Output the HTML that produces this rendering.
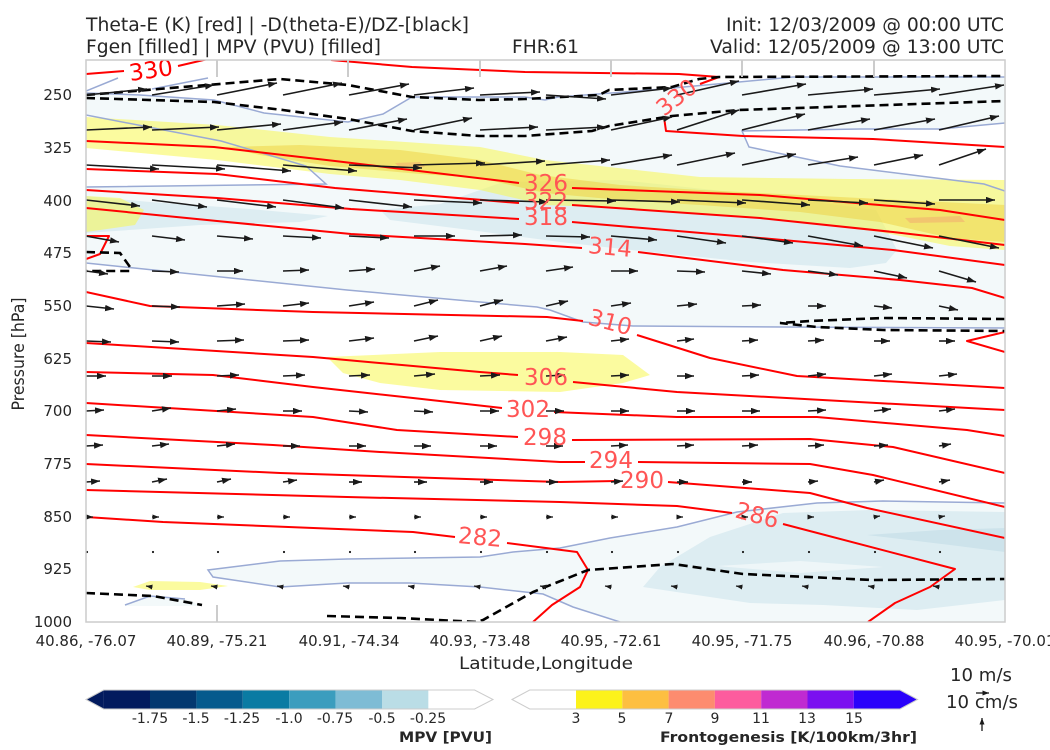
<!DOCTYPE html>
<html>
<head>
<meta charset="utf-8">
<style>
html,body{margin:0;padding:0;background:#fff;}
svg{display:block;}
text{font-family:"DejaVu Sans","Liberation Sans",sans-serif;}
</style>
</head>
<body>
<svg width="1050" height="750" viewBox="0 0 1050 750" xmlns="http://www.w3.org/2000/svg">
<defs>
<marker id="ah" markerUnits="userSpaceOnUse" markerWidth="10" markerHeight="8" refX="9" refY="3.2" orient="auto"><path d="M0,0 L9,3.2 L0,6.4 z" fill="#1a1a1a"/></marker>
<marker id="as" markerUnits="userSpaceOnUse" markerWidth="8" markerHeight="6" refX="6.5" refY="2.5" orient="auto"><path d="M0,0 L6.5,2.5 L0,5 z" fill="#1a1a1a"/></marker>
<clipPath id="pc"><rect x="86" y="60" width="919" height="562"/></clipPath>
</defs>
<rect width="1050" height="750" fill="#fff"/>

<g clip-path="url(#pc)">
<!-- MPV fills -->
<polygon fill="#f3f9fa" points="86,93 140,95 214,100 264,113 348,122 383,114 412,97 525,97 545,100 558,97 650,90 739,82 793,77 1005,77 1005,328 783,327 633,326 583,322 550,310 537,307 480,302 347,290 86,263"/>
<polygon fill="#ffffff" points="86,115 221,141 306,166 326,184 86,187"/>
<polygon fill="#ffffff" points="742,131 860,129 940,129 1005,123 1005,191 984,184 840,166 749,147"/>
<polygon fill="#f3f9fa" points="208,570 280,561 347,559 480,557 513,552 560,548 610,538 677,527 737,512 817,503 883,501 1005,503 1005,622 620,622 573,607 543,594 480,587 410,583 347,583 280,587 213,577"/>
<polygon fill="#f3f9fa" points="125,605 150,596 190,600 200,606 125,606"/>
<polygon fill="#ddedf2" points="86,196 150,202 250,209 328,216 300,222 200,225 144,229 86,233"/>
<polygon fill="#ddedf2" points="380,210 440,204 503,182 620,180 760,195 876,210 897,250 886,263 850,268 750,262 650,252 560,242 470,230 390,220"/>
<polygon fill="#ddedf2" points="643,587 660,567 710,537 783,513 870,510 1005,512 1005,600 917,610 823,605 750,603"/>
<polygon fill="#eef6f8" points="717,566 800,561 883,567 800,573"/>
<polygon fill="#cde3eb" points="867,535 940,530 1005,528 1005,552 950,545"/>

<!-- Fgen fills -->
<g fill="#f8f850" fill-opacity="0.55">
<polygon points="86,117 217,125 330,137 480,147 545,160 700,177 850,179 1005,180 1005,250 950,246 880,232 800,222 700,214 620,208 545,205 480,190 400,180 330,174 217,160 86,148"/>
<polygon points="327,357 440,352 560,352 623,355 650,375 623,383 560,392 440,390 380,383 343,373"/>
<polygon points="86,196 120,198 144,210 135,225 86,232"/>
<polygon points="133,587 150,581 200,582 228,586 200,590 150,590"/>
</g>
<polygon fill="#eed040" fill-opacity="0.5" points="225,147 300,145 400,150 480,160 540,175 620,185 700,190 800,195 900,200 1005,205 1005,242 950,238 880,222 800,212 700,205 620,200 545,193 480,178 420,174 330,166 260,155"/>
<polygon fill="#f2b070" fill-opacity="0.6" points="395,163 420,162 425,167 400,168"/>
<polygon fill="#f2b070" fill-opacity="0.6" points="905,218 960,216 965,222 910,223"/>

<!-- MPV contour lines -->
<g fill="none" stroke="#9aaad4" stroke-width="1.5">
<polyline points="86,93 140,95 214,100 264,113 348,122 383,114 412,97 525,97 545,100 558,97 650,90 739,82 793,77 1005,77"/>
<polyline points="86,91 118,78"/>
<polyline points="152,89 208,78"/>
<polyline points="86,115 221,141 306,166 326,184 86,187"/>
<polyline points="1005,123 940,129 860,129 742,131 749,147 840,166 984,184 1005,191"/>
<polyline points="86,263 347,290 480,302 537,307 550,310 583,322 633,326 783,327 1005,328"/>
<polyline points="1005,503 883,501 817,503 737,512 677,527 610,538 560,548 513,552 480,557 347,559 280,561 208,570 213,577 280,587 347,583 410,583 480,587 543,594 573,607 620,622"/>
<polyline points="125,605 150,596 185,599"/>
</g>

<!-- Theta-E contours -->
<g fill="none" stroke="#ff0000" stroke-width="2" stroke-linejoin="round">
<polyline points="86,74 124,71"/>
<polyline points="178,66 208,59"/>
<polyline points="331,60 412,67 525,72 679,74 719,77 700,84"/>
<polyline points="664,117 666,131 743,136 873,139 1005,147"/>
<polyline points="86,141 214,147 335,161 519,183"/>
<polyline points="572,188 760,195 940,210 1005,220"/>
<polyline points="86,169 217,174 335,188 519,203"/>
<polyline points="572,205 760,218 893,232 1005,245"/>
<polyline points="86,190 217,198 351,209 519,219"/>
<polyline points="572,222 760,238 893,250 1005,265"/>
<polyline points="86,208 217,221 351,234 525,244 582,248"/>
<polyline points="638,252 783,270 900,280 972,288 1005,298"/>
<polyline points="86,292 150,306 313,312 547,317 583,321"/>
<polyline points="637,335 710,358 797,376 1005,388"/>
<polyline points="86,236 109,236 100,254 86,259"/>
<polyline points="1005,332 967,341 1005,352"/>
<polyline points="86,343 313,357 480,372 518,375"/>
<polyline points="573,382 677,392 1005,410"/>
<polyline points="86,372 213,375 313,387 413,398 502,408"/>
<polyline points="554,412 677,417 817,417 967,430 1005,436"/>
<polyline points="86,403 313,417 397,430 518,437"/>
<polyline points="572,440 810,439 893,447 1005,473"/>
<polyline points="86,435 273,445 380,452 560,462 585,462"/>
<polyline points="638,462 810,464 873,475 1005,507"/>
<polyline points="86,464 280,473 560,482 617,481"/>
<polyline points="668,482 810,493 867,508 1005,538"/>
<polyline points="86,490 347,497 560,502 677,506 732,513"/>
<polyline points="783,524 955,569 930,587 895,603 868,622"/>
<polyline points="86,517 163,522 413,532 455,537"/>
<polyline points="507,543 577,552 588,570 580,587 552,605 533,622"/>
</g>

<!-- dashed contours -->
<g fill="none" stroke="#000" stroke-width="2.6" stroke-dasharray="9,5">
<polyline points="86,95 280,79 348,85 412,97 479,100 525,99 599,95 609,90 672,87 699,79 719,77 1005,76"/>
<polyline points="86,98 214,102 283,110 348,119 412,131 479,136 525,136 592,131 609,126 672,116 739,110 1005,101"/>
<polyline points="1005,319 883,318 810,321 780,323 817,327 883,330 1005,331"/>
<polyline points="86,252 120,253 130,267 130,271 86,271"/>
<polyline points="86,593 153,596 202,605"/>
<polyline points="327,616 400,618 477,622 483,620 533,592 588,570 673,564 743,574 873,580 1005,579"/>
</g>

<!-- wind arrows -->
<g stroke="#1a1a1a" stroke-width="1.6" marker-end="url(#ah)">
<line x1="86" y1="95" x2="147" y2="89"/><line x1="152" y1="95" x2="214" y2="85"/><line x1="217" y1="95" x2="277" y2="83"/><line x1="283" y1="95" x2="342" y2="83"/><line x1="349" y1="95" x2="409" y2="84"/><line x1="414" y1="95" x2="474" y2="88"/><line x1="480" y1="95" x2="540" y2="92"/><line x1="546" y1="95" x2="606" y2="99"/><line x1="611" y1="95" x2="672" y2="88"/><line x1="677" y1="95" x2="739" y2="81"/><line x1="742" y1="95" x2="806" y2="84"/><line x1="808" y1="95" x2="873" y2="89"/><line x1="874" y1="95" x2="940" y2="89"/><line x1="939" y1="95" x2="1004" y2="85"/>
<line x1="86" y1="130" x2="152" y2="127"/><line x1="152" y1="130" x2="219" y2="127"/><line x1="217" y1="130" x2="281" y2="124"/><line x1="283" y1="130" x2="343" y2="122"/><line x1="349" y1="130" x2="407" y2="119"/><line x1="414" y1="130" x2="472" y2="118"/><line x1="480" y1="130" x2="538" y2="127"/><line x1="546" y1="130" x2="606" y2="127"/><line x1="611" y1="130" x2="672" y2="117"/><line x1="677" y1="130" x2="739" y2="110"/><line x1="742" y1="130" x2="805" y2="114"/><line x1="808" y1="130" x2="870" y2="119"/><line x1="874" y1="130" x2="935" y2="119"/><line x1="939" y1="130" x2="999" y2="116"/>
<line x1="86" y1="165" x2="159" y2="169"/><line x1="152" y1="165" x2="225" y2="169"/><line x1="217" y1="165" x2="291" y2="171"/><line x1="283" y1="165" x2="357" y2="171"/><line x1="349" y1="165" x2="422" y2="168"/><line x1="414" y1="165" x2="485" y2="163"/><line x1="480" y1="165" x2="545" y2="161"/><line x1="546" y1="165" x2="610" y2="160"/><line x1="611" y1="165" x2="672" y2="155"/><line x1="677" y1="165" x2="735" y2="153"/><line x1="742" y1="165" x2="796" y2="154"/><line x1="808" y1="165" x2="858" y2="157"/><line x1="874" y1="165" x2="923" y2="155"/><line x1="939" y1="165" x2="986" y2="149"/>
<line x1="86" y1="200" x2="140" y2="206"/><line x1="152" y1="200" x2="207" y2="207"/><line x1="217" y1="200" x2="276" y2="207"/><line x1="283" y1="200" x2="344" y2="208"/><line x1="349" y1="200" x2="412" y2="207"/><line x1="414" y1="200" x2="482" y2="203"/><line x1="480" y1="200" x2="548" y2="202"/><line x1="546" y1="200" x2="616" y2="201"/><line x1="611" y1="200" x2="680" y2="202"/><line x1="677" y1="200" x2="746" y2="203"/><line x1="742" y1="200" x2="810" y2="205"/><line x1="808" y1="200" x2="868" y2="203"/><line x1="874" y1="200" x2="935" y2="204"/><line x1="939" y1="200" x2="995" y2="200"/>
<line x1="86" y1="236" x2="119" y2="242"/><line x1="152" y1="236" x2="185" y2="240"/><line x1="217" y1="236" x2="253" y2="239"/><line x1="283" y1="236" x2="321" y2="238"/><line x1="349" y1="236" x2="389" y2="238"/><line x1="414" y1="236" x2="455" y2="236"/><line x1="480" y1="236" x2="522" y2="235"/><line x1="546" y1="236" x2="590" y2="237"/><line x1="611" y1="236" x2="657" y2="240"/><line x1="677" y1="236" x2="726" y2="243"/><line x1="742" y1="236" x2="793" y2="243"/><line x1="808" y1="236" x2="863" y2="246"/><line x1="874" y1="236" x2="933" y2="248"/><line x1="939" y1="236" x2="999" y2="248"/>
<line x1="86" y1="271" x2="108" y2="274"/><line x1="152" y1="271" x2="179" y2="272"/><line x1="217" y1="271" x2="243" y2="271"/><line x1="283" y1="271" x2="309" y2="270"/><line x1="349" y1="271" x2="375" y2="269"/><line x1="414" y1="271" x2="440" y2="266"/><line x1="480" y1="271" x2="507" y2="266"/><line x1="546" y1="271" x2="573" y2="267"/><line x1="611" y1="271" x2="638" y2="271"/><line x1="677" y1="271" x2="705" y2="272"/><line x1="742" y1="271" x2="771" y2="274"/><line x1="808" y1="271" x2="838" y2="275"/><line x1="874" y1="271" x2="907" y2="278"/><line x1="939" y1="271" x2="976" y2="282"/>
<line x1="86" y1="306" x2="114" y2="309"/><line x1="152" y1="306" x2="180" y2="307"/><line x1="217" y1="306" x2="245" y2="304"/><line x1="283" y1="306" x2="309" y2="303"/><line x1="349" y1="306" x2="374" y2="302"/><line x1="414" y1="306" x2="438" y2="300"/><line x1="480" y1="306" x2="503" y2="300"/><line x1="546" y1="306" x2="568" y2="301"/><line x1="611" y1="306" x2="631" y2="303"/><line x1="677" y1="306" x2="697" y2="304"/><line x1="742" y1="306" x2="761" y2="305"/><line x1="808" y1="306" x2="826" y2="306"/><line x1="874" y1="306" x2="892" y2="308"/><line x1="939" y1="306" x2="958" y2="310"/>
<line x1="86" y1="341" x2="111" y2="342"/><line x1="152" y1="341" x2="179" y2="342"/><line x1="217" y1="341" x2="244" y2="340"/><line x1="283" y1="341" x2="309" y2="340"/><line x1="349" y1="341" x2="374" y2="338"/><line x1="414" y1="341" x2="438" y2="336"/><line x1="480" y1="341" x2="502" y2="336"/><line x1="546" y1="341" x2="567" y2="337"/><line x1="611" y1="341" x2="629" y2="339"/><line x1="677" y1="341" x2="694" y2="339"/><line x1="742" y1="341" x2="758" y2="340"/><line x1="808" y1="341" x2="824" y2="340"/><line x1="874" y1="341" x2="890" y2="341"/><line x1="939" y1="341" x2="955" y2="341"/>
<line x1="86" y1="376" x2="106" y2="376"/><line x1="152" y1="376" x2="172" y2="376"/><line x1="217" y1="376" x2="239" y2="375"/><line x1="283" y1="376" x2="305" y2="375"/><line x1="349" y1="376" x2="370" y2="375"/><line x1="414" y1="376" x2="435" y2="374"/><line x1="480" y1="376" x2="500" y2="375"/><line x1="546" y1="376" x2="565" y2="375"/><line x1="611" y1="376" x2="629" y2="375"/><line x1="677" y1="376" x2="694" y2="376"/><line x1="742" y1="376" x2="759" y2="375"/><line x1="808" y1="376" x2="826" y2="374"/><line x1="874" y1="376" x2="892" y2="374"/><line x1="939" y1="376" x2="957" y2="374"/>
<line x1="86" y1="411" x2="104" y2="410"/><line x1="152" y1="411" x2="171" y2="408"/><line x1="217" y1="411" x2="236" y2="409"/><line x1="283" y1="411" x2="302" y2="411"/><line x1="349" y1="411" x2="368" y2="412"/><line x1="414" y1="411" x2="433" y2="412"/><line x1="480" y1="411" x2="499" y2="411"/><line x1="546" y1="411" x2="564" y2="411"/><line x1="611" y1="411" x2="629" y2="411"/><line x1="677" y1="411" x2="695" y2="411"/><line x1="742" y1="411" x2="760" y2="411"/><line x1="808" y1="411" x2="826" y2="410"/><line x1="874" y1="411" x2="891" y2="409"/><line x1="939" y1="411" x2="955" y2="409"/>
<line x1="86" y1="446" x2="103" y2="445"/><line x1="152" y1="446" x2="169" y2="444"/><line x1="217" y1="446" x2="235" y2="444"/><line x1="283" y1="446" x2="300" y2="446"/><line x1="349" y1="446" x2="366" y2="446"/><line x1="414" y1="446" x2="431" y2="446"/><line x1="480" y1="446" x2="497" y2="446"/><line x1="546" y1="446" x2="563" y2="446"/><line x1="611" y1="446" x2="628" y2="445"/><line x1="677" y1="446" x2="694" y2="445"/><line x1="742" y1="446" x2="758" y2="445"/><line x1="808" y1="446" x2="824" y2="445"/><line x1="874" y1="446" x2="888" y2="445"/><line x1="939" y1="446" x2="951" y2="444"/>
<line x1="86" y1="482" x2="100" y2="481"/><line x1="152" y1="482" x2="167" y2="479"/><line x1="217" y1="482" x2="231" y2="479"/><line x1="283" y1="482" x2="297" y2="480"/><line x1="349" y1="482" x2="362" y2="482"/><line x1="414" y1="482" x2="427" y2="482"/><line x1="480" y1="482" x2="493" y2="482"/><line x1="546" y1="482" x2="558" y2="482"/><line x1="611" y1="482" x2="623" y2="481"/><line x1="677" y1="482" x2="688" y2="482"/><line x1="742" y1="482" x2="752" y2="482"/><line x1="808" y1="482" x2="818" y2="481"/><line x1="874" y1="482" x2="884" y2="480"/><line x1="939" y1="482" x2="950" y2="480"/>
</g>
<g stroke="#1a1a1a" stroke-width="1.3" marker-end="url(#as)">
<line x1="86" y1="517" x2="93" y2="517"/><line x1="152" y1="517" x2="159" y2="517"/><line x1="217" y1="517" x2="224" y2="517"/><line x1="283" y1="517" x2="290" y2="517"/><line x1="349" y1="517" x2="356" y2="517"/><line x1="414" y1="517" x2="421" y2="517"/><line x1="480" y1="517" x2="487" y2="517"/><line x1="546" y1="517" x2="553" y2="517"/><line x1="611" y1="517" x2="618" y2="517"/><line x1="677" y1="517" x2="683" y2="517"/><line x1="742" y1="517" x2="748" y2="517"/><line x1="808" y1="517" x2="814" y2="517"/><line x1="874" y1="517" x2="880" y2="516"/><line x1="939" y1="517" x2="945" y2="516"/>
<line x1="152" y1="587" x2="146" y2="586"/><line x1="217" y1="587" x2="211" y2="586"/><line x1="283" y1="587" x2="277" y2="586"/><line x1="349" y1="587" x2="343" y2="586"/><line x1="414" y1="587" x2="408" y2="586"/><line x1="480" y1="587" x2="474" y2="586"/><line x1="546" y1="587" x2="540" y2="586"/><line x1="611" y1="587" x2="605" y2="586"/><line x1="677" y1="587" x2="671" y2="586"/><line x1="742" y1="587" x2="736" y2="586"/><line x1="808" y1="587" x2="802" y2="586"/><line x1="874" y1="587" x2="868" y2="586"/><line x1="939" y1="587" x2="933" y2="586"/>
</g>
<g fill="#1a1a1a">
<circle cx="87" cy="552" r="1.1"/><circle cx="153" cy="552" r="1.1"/><circle cx="218" cy="552" r="1.1"/><circle cx="284" cy="552" r="1.1"/><circle cx="350" cy="552" r="1.1"/><circle cx="415" cy="552" r="1.1"/><circle cx="481" cy="552" r="1.1"/><circle cx="547" cy="552" r="1.1"/><circle cx="612" cy="552" r="1.1"/><circle cx="678" cy="552" r="1.1"/><circle cx="743" cy="552" r="1.1"/><circle cx="809" cy="552" r="1.1"/><circle cx="875" cy="552" r="1.1"/><circle cx="940" cy="552" r="1.1"/>
</g>

<!-- contour labels -->
<g font-size="23" text-anchor="middle" dominant-baseline="central" fill="#f55">
<text x="151" y="71" fill="#ff0000" transform="rotate(-8 151 71)">330</text>
<text x="677" y="98" transform="rotate(-38 677 98)">330</text>
<text x="546" y="184">326</text>
<text x="546" y="202">322</text>
<text x="546" y="218">318</text>
<text x="610" y="248" transform="rotate(5 610 248)">314</text>
<text x="610" y="323" transform="rotate(15 610 323)">310</text>
<text x="546" y="378">306</text>
<text x="528" y="410">302</text>
<text x="545" y="438">298</text>
<text x="611" y="461">294</text>
<text x="642" y="481">290</text>
<text x="757" y="516" transform="rotate(15 757 516)">286</text>
<text x="480" y="538" transform="rotate(5 480 538)">282</text>
</g>
</g>

<!-- frame and ticks -->
<rect x="86" y="60" width="919" height="562" fill="none" stroke="#cccccc" stroke-width="1.5"/>
<g stroke="#cccccc" stroke-width="2">
<line x1="217" y1="60" x2="217" y2="77"/><line x1="348" y1="60" x2="348" y2="77"/><line x1="480" y1="60" x2="480" y2="77"/><line x1="611" y1="60" x2="611" y2="77"/><line x1="742" y1="60" x2="742" y2="77"/><line x1="874" y1="60" x2="874" y2="77"/>
<line x1="217" y1="605" x2="217" y2="622"/>
</g>

<!-- titles -->
<g fill="#262626" font-size="18.5">
<text x="86" y="31" textLength="383" lengthAdjust="spacingAndGlyphs">Theta-E (K) [red] | -D(theta-E)/DZ-[black]</text>
<text x="86" y="53" textLength="295" lengthAdjust="spacingAndGlyphs">Fgen [filled] | MPV (PVU) [filled]</text>
<text x="512" y="53" textLength="67" lengthAdjust="spacingAndGlyphs">FHR:61</text>
<text x="726" y="31" textLength="278" lengthAdjust="spacingAndGlyphs">Init: 12/03/2009 @ 00:00 UTC</text>
<text x="710" y="53" textLength="294" lengthAdjust="spacingAndGlyphs">Valid: 12/05/2009 @ 13:00 UTC</text>
</g>

<!-- y axis -->
<g fill="#262626" font-size="15" text-anchor="end" dominant-baseline="central">
<text x="72" y="95">250</text>
<text x="72" y="148">325</text>
<text x="72" y="201">400</text>
<text x="72" y="253">475</text>
<text x="72" y="306">550</text>
<text x="72" y="359">625</text>
<text x="72" y="411">700</text>
<text x="72" y="464">775</text>
<text x="72" y="517">850</text>
<text x="72" y="569">925</text>
<text x="72" y="622">1000</text>
</g>
<text x="0" y="0" fill="#262626" font-size="17" text-anchor="middle" transform="translate(24 354) rotate(-90)" textLength="113" lengthAdjust="spacingAndGlyphs">Pressure [hPa]</text>

<!-- x axis -->
<g fill="#262626" font-size="15" text-anchor="middle">
<text x="86" y="646">40.86, -76.07</text>
<text x="217" y="646">40.89, -75.21</text>
<text x="349" y="646">40.91, -74.34</text>
<text x="480" y="646">40.93, -73.48</text>
<text x="611" y="646">40.95, -72.61</text>
<text x="742" y="646">40.95, -71.75</text>
<text x="874" y="646">40.96, -70.88</text>
<text x="1005" y="646">40.95, -70.01</text>
</g>
<text x="459" y="669" fill="#262626" font-size="17" textLength="174" lengthAdjust="spacingAndGlyphs">Latitude,Longitude</text>

<!-- MPV colorbar -->
<g stroke="none">
<polygon points="86,699.5 103.6,690 103.6,709" fill="#021a5e"/>
<rect x="103.6" y="690" width="46.4" height="19" fill="#021a5e"/>
<rect x="150" y="690" width="46.4" height="19" fill="#03386f"/>
<rect x="196.4" y="690" width="46.4" height="19" fill="#055a8d"/>
<rect x="242.8" y="690" width="46.4" height="19" fill="#0a7ba3"/>
<rect x="289.2" y="690" width="46.4" height="19" fill="#3b9dbe"/>
<rect x="335.6" y="690" width="46.4" height="19" fill="#7ebcd5"/>
<rect x="382" y="690" width="46.4" height="19" fill="#badde6"/>
<rect x="428.4" y="690" width="46.4" height="19" fill="#ffffff"/>
</g>
<polygon points="86,699.5 103.6,690 474.6,690 493,699.5 474.6,709 103.6,709" fill="none" stroke="#cccccc" stroke-width="1"/>
<g fill="#262626" font-size="14" text-anchor="middle">
<text x="150" y="723">-1.75</text>
<text x="196" y="723">-1.5</text>
<text x="242" y="723">-1.25</text>
<text x="289" y="723">-1.0</text>
<text x="335" y="723">-0.75</text>
<text x="382" y="723">-0.5</text>
<text x="428" y="723">-0.25</text>
</g>
<text x="399" y="742" fill="#262626" font-size="14" font-weight="bold" textLength="93" lengthAdjust="spacingAndGlyphs">MPV [PVU]</text>

<!-- Fgen colorbar -->
<g stroke="none">
<rect x="529.7" y="690" width="46.3" height="19" fill="#ffffff"/>
<rect x="576" y="690" width="46.3" height="19" fill="#fcf21b"/>
<rect x="622.3" y="690" width="46.3" height="19" fill="#fdbf41"/>
<rect x="668.6" y="690" width="46.3" height="19" fill="#fd8c6f"/>
<rect x="714.9" y="690" width="46.3" height="19" fill="#fd5c9e"/>
<rect x="761.2" y="690" width="46.3" height="19" fill="#c02ad1"/>
<rect x="807.5" y="690" width="46.3" height="19" fill="#7b10f0"/>
<rect x="853.8" y="690" width="46.3" height="19" fill="#2a02fb"/>
<polygon points="900,690 917.6,699.5 900,709" fill="#2a02fb"/>
</g>
<polygon points="512,699.5 529.7,690 900,690 917.6,699.5 900,709 529.7,709" fill="none" stroke="#cccccc" stroke-width="1"/>
<g fill="#262626" font-size="14" text-anchor="middle">
<text x="576" y="723">3</text>
<text x="622" y="723">5</text>
<text x="669" y="723">7</text>
<text x="715" y="723">9</text>
<text x="761" y="723">11</text>
<text x="807" y="723">13</text>
<text x="854" y="723">15</text>
</g>
<text x="660" y="742" fill="#262626" font-size="14" font-weight="bold" textLength="257" lengthAdjust="spacingAndGlyphs">Frontogenesis [K/100km/3hr]</text>

<!-- vector key -->
<g fill="#262626" font-size="18">
<text x="950" y="681" textLength="62" lengthAdjust="spacingAndGlyphs">10 m/s</text>
<text x="946" y="708" textLength="72" lengthAdjust="spacingAndGlyphs">10 cm/s</text>
</g>
<line x1="976" y1="693" x2="989" y2="693" stroke="#1a1a1a" stroke-width="1.3" marker-end="url(#as)"/>
<line x1="982" y1="731" x2="982" y2="718" stroke="#1a1a1a" stroke-width="1.3" marker-end="url(#as)"/>
</svg>
</body>
</html>
